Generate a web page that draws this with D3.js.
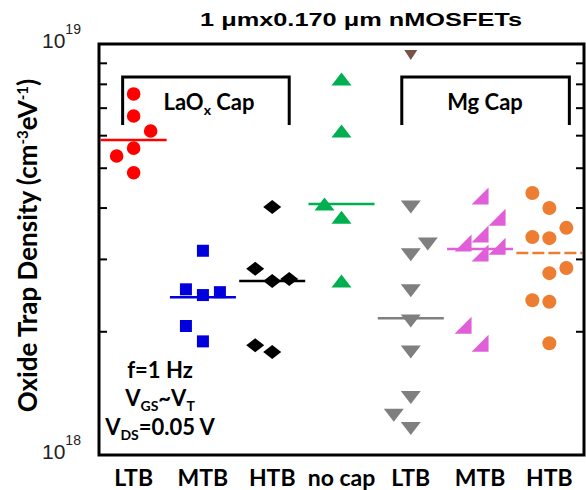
<!DOCTYPE html>
<html>
<head>
<meta charset="utf-8">
<script src="https://cdn.jsdelivr.net/npm/d3@7"></script>
<style>
  body { margin: 0; background: #fff; }
  svg { display: block; }
</style>
</head>
<body>
<svg class="chart"></svg>
<script>
const size = {w: 586, h: 490};
const margin = {top: 44, right: 2, bottom: 35, left: 99};

// category ids and the labels shown under the axis
const groupIds = ['laLTB', 'laMTB', 'laHTB', 'noCap', 'mgLTB', 'mgMTB', 'mgHTB'];
const groupLabels = ['LTB', 'MTB', 'HTB', 'no cap', 'LTB', 'MTB', 'HTB'];

// each point: [trap density in 1e18 cm^-3 eV^-1, jitter column -1/0/1]
const laoxLTB = [[7.56, 0], [6.68, 0], [6.14, 1], [5.58, 0], [5.34, -1], [4.86, 0]];
const laoxMTB = [[3.14, 0], [2.53, -1], [2.45, 0], [2.49, 1], [2.06, -1], [1.89, 0]];
const laoxHTB = [[4.01, 0], [2.84, -1], [2.65, 0], [2.68, 1], [1.85, -1], [1.78, 0]];
const noCap   = [[8.22, 0], [6.14, 0], [4.08, -1], [3.79, 0], [2.65, 0]];
const mgLTB   = [[4.01, 0], [3.26, 1], [3.07, 0], [2.51, 0], [2.12, 0], [1.78, 0], [1.38, 0], [1.25, -1], [1.16, 0]];
const mgLTBOutlier = [[9.40, 0]];
const mgMTB   = [[4.27, 0], [3.79, 1], [3.45, 0], [3.28, -1], [3.22, 1], [3.10, 0], [2.07, -1], [1.87, 0]];
const mgHTB   = [[4.34, -1], [3.99, 0], [3.57, 1], [3.39, -1], [3.37, 0], [2.85, 1], [2.77, 0], [2.38, -1], [2.36, 0], [1.87, 0]];

// average line per group (same units)
const groupMeans = [5.84, 2.42, 2.65, 4.08, 2.15, 3.17, 3.10];

const minorTicks = [2, 3, 4, 5, 6, 7, 8, 9];

const svg = d3.select('svg.chart')
    .attr('width', size.w)
    .attr('height', size.h);

const plotW = size.w - margin.left - margin.right;
const plotH = size.h - margin.top - margin.bottom;

const x = d3.scaleBand()
    .domain(groupIds)
    .range([margin.left, margin.left + plotW])
    .padding(0);

const y = d3.scaleLog()
    .domain([1e18, 1e19])
    .range([margin.top + plotH, margin.top]);

const jitter = d3.scaleLinear().domain([-1, 1]).range([-17, 17]);

// marker shapes
const circle = r => `M${-r},0A${r},${r} 0 1,0 ${r},0A${r},${r} 0 1,0 ${-r},0Z`;
const square = s => `M${-s/2},${-s/2}h${s}v${s}h${-s}Z`;
const diamond = (w, h) => `M0,${-h/2}L${w/2},0L0,${h/2}L${-w/2},0Z`;
const triUp = (w, h) => `M0,${-h/2}L${w/2},${h/2}L${-w/2},${h/2}Z`;
const triDown = (w, h) => `M${-w/2},${-h/2}L${w/2},${-h/2}L0,${h/2}Z`;
const triRight = s => `M${s/2},${-s/2}L${s/2},${s/2}L${-s/2},${s/2}Z`;

const series = [
    {id: 'laLTB', data: laoxLTB, color: '#ff0000', shape: circle(6.8)},
    {id: 'laMTB', data: laoxMTB, color: '#0000dd', shape: square(12)},
    {id: 'laHTB', data: laoxHTB, color: '#000000', shape: diamond(18, 14)},
    {id: 'noCap', data: noCap, color: '#00b050', shape: triUp(20, 13)},
    {id: 'mgLTB', data: mgLTB, color: '#7f7f7f', shape: triDown(20, 13)},
    {id: 'mgLTB', data: mgLTBOutlier, color: '#7a5246', shape: triDown(13, 10)},
    {id: 'mgMTB', data: mgMTB, color: '#e05fd8', shape: triRight(17)},
    {id: 'mgHTB', data: mgHTB, color: '#ed7d31', shape: circle(7)}
];
const meanColors = ['#ff0000', '#0000dd', '#000000', '#00b050', '#7f7f7f', '#e05fd8', '#ed7d31'];

const center = id => x(id) + x.bandwidth() / 2;

// mean lines
svg.append('g').selectAll('line')
    .data(groupMeans)
    .join('line')
    .attr('x1', (d, i) => center(groupIds[i]) - 33)
    .attr('x2', (d, i) => Math.min(center(groupIds[i]) + 33, margin.left + plotW))
    .attr('y1', d => y(d * 1e18))
    .attr('y2', d => y(d * 1e18))
    .attr('stroke', (d, i) => meanColors[i])
    .attr('stroke-width', 2.5)
    .attr('stroke-dasharray', (d, i) => groupIds[i] === 'mgHTB' ? '12,4' : null);

// points
series.forEach(s => {
    svg.append('g').selectAll('path')
        .data(s.data)
        .join('path')
        .attr('d', s.shape)
        .attr('fill', s.color)
        .attr('transform', d => `translate(${center(s.id) + jitter(d[1])},${y(d[0] * 1e18)})`);
});

// axes (inward ticks, frame)
const yTicks = minorTicks.map(v => v * 1e18);
svg.append('g')
    .attr('transform', `translate(${margin.left},0)`)
    .call(d3.axisLeft(y).tickValues(yTicks).tickSize(-8).tickSizeOuter(0).tickFormat(''))
    .call(g => g.selectAll('line').attr('stroke-width', 2));
svg.append('g')
    .attr('transform', `translate(${margin.left + plotW},0)`)
    .call(d3.axisRight(y).tickValues(yTicks).tickSize(-8).tickSizeOuter(0).tickFormat(''))
    .call(g => g.selectAll('line').attr('stroke-width', 2));
svg.selectAll('.domain').remove();
svg.append('rect')
    .attr('x', margin.left)
    .attr('y', margin.top)
    .attr('width', plotW)
    .attr('height', plotH)
    .attr('fill', 'none')
    .attr('stroke', '#000')
    .attr('stroke-width', 3);

// x labels
svg.append('g')
    .attr('transform', `translate(0,${margin.top + plotH})`)
    .call(d3.axisBottom(x).tickSize(0).tickPadding(0).tickFormat((d, i) => groupLabels[i]))
    .call(g => g.select('.domain').remove())
    .call(g => g.selectAll('text')
        .attr('dy', null)
        .attr('y', 31)
        .attr('font-family', 'Lato, sans-serif')
        .attr('font-weight', 'bold')
        .attr('font-size', 23)
        .attr('fill', '#000'));

// y decade labels
[[1e19, '19'], [1e18, '18']].forEach(([v, e]) => {
    const t = svg.append('text')
        .attr('x', 42)
        .attr('y', y(v) + 4)
        .attr('font-family', 'Liberation Sans, Arial, sans-serif')
        .attr('font-size', 21)
        .attr('fill', '#222');
    t.append('tspan').text('10');
    t.append('tspan').attr('dy', -14).attr('font-size', 14).text(e);
});

// y title
const yt = svg.append('text')
    .attr('transform', `translate(37,${margin.top + plotH / 2 - 4}) rotate(-90)`)
    .attr('text-anchor', 'middle')
    .attr('font-family', 'Lato, sans-serif')
    .attr('font-weight', 'bold')
    .attr('font-size', 26)
    .attr('fill', '#000');
yt.append('tspan').text('Oxide Trap Density (cm');
yt.append('tspan').attr('dy', -9).attr('font-size', 15).text('-3');
yt.append('tspan').attr('dy', 9).text('eV');
yt.append('tspan').attr('dy', -9).attr('font-size', 15).text('-1');
yt.append('tspan').attr('dy', 9).text(')');

// title
svg.append('text')
    .attr('x', 200)
    .attr('y', 26)
    .attr('font-family', 'Liberation Sans, Arial, sans-serif')
    .attr('font-weight', 'bold')
    .attr('font-size', 19)
    .attr('textLength', 322)
    .attr('lengthAdjust', 'spacingAndGlyphs')
    .attr('fill', '#000')
    .text('1 \u03bcmx0.170 \u03bcm nMOSFETs');

// brackets
const bracket = (x1, x2) => `M${x1},125V77H${x2}V125`;
svg.append('path')
    .attr('d', bracket(center('laLTB') - 11, center('laHTB') + 17))
    .attr('fill', 'none').attr('stroke', '#000').attr('stroke-width', 3);
svg.append('path')
    .attr('d', bracket(center('mgLTB') - 9, center('mgHTB') + 20))
    .attr('fill', 'none').attr('stroke', '#000').attr('stroke-width', 3);

const boldText = (tx, ty) => svg.append('text')
    .attr('x', tx).attr('y', ty)
    .attr('text-anchor', 'middle')
    .attr('font-family', 'Lato, sans-serif')
    .attr('font-weight', 'bold')
    .attr('font-size', 22)
    .attr('fill', '#000');

const la = boldText(209, 110);
la.append('tspan').text('LaO');
la.append('tspan').attr('dy', 5).attr('font-size', 14).text('x');
la.append('tspan').attr('dy', -5).text(' Cap');

boldText(485, 110).text('Mg Cap');

// conditions
boldText(160, 378).text('f=1 Hz');
const vgs = boldText(160, 406);
vgs.append('tspan').text('V');
vgs.append('tspan').attr('dy', 5).attr('font-size', 14).text('GS');
vgs.append('tspan').attr('dy', -5).text('~V');
vgs.append('tspan').attr('dy', 5).attr('font-size', 14).text('T');
const vds = boldText(160, 435);
vds.append('tspan').text('V');
vds.append('tspan').attr('dy', 5).attr('font-size', 14).text('DS');
vds.append('tspan').attr('dy', -5).text('=0.05 V');
</script>
</body>
</html>
